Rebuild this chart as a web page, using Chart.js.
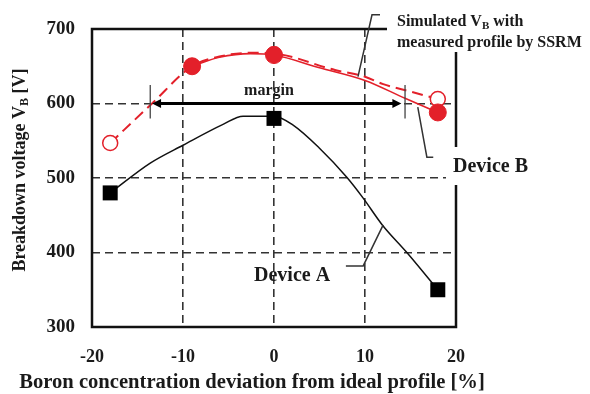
<!DOCTYPE html>
<html>
<head>
<meta charset="utf-8">
<script src="https://cdn.jsdelivr.net/npm/chart.js@4.4.1/dist/chart.umd.min.js"></script>
<style>
  body { margin: 0; background: #fff; }
  #wrap { width: 590px; height: 394px; }
</style>
</head>
<body>
<div id="wrap"><canvas id="chart" width="590" height="394"></canvas></div>
<script>
// axis ticks
const xTicks = [-20, -10, 0, 10, 20];
const yTicks = [300, 400, 500, 600, 700];

// Device A (squares) and its curve
const devAX = [-18, 0, 18];
const devAY = [480, 580, 350];
const devACurveX = [-18, -13.6, -10, -5.6, -3.4, 0, 2.1, 5, 8, 9.8, 11.9, 14.6, 18];
const devACurveY = [480, 520, 544, 572, 583, 583, 571, 540, 501, 473, 437, 400, 350];

// Device B measured (filled red)
const devBX = [-9, 0, 18];
const devBY = [650, 665, 588];
const devBCurveX = [-9, -6, -2.6, 0, 5, 10, 14.4, 18];
const devBCurveY = [650, 662, 667, 665, 648, 631, 607, 588];

// simulated VB with SSRM profile (open red)
const simX = [-18, -9, 0, 18];
const simY = [547, 650, 666, 606];
const simCurveX = [-18, -13.4, -9, -6, -2.6, 0, 6.7, 10, 12, 15, 18];
const simCurveY = [547, 600, 650, 663, 668, 667, 645, 636, 626, 616, 606];

// margin arrow at 600 V
const marginX = [-13.4, 14.0];
const marginY = 600;

// leader lines for the labels (data units)
const leaders = {
  sim: { x: [11.65, 10.77, 9.23], y: [719, 719, 636] },
  devB: { x: [15.8, 16.8, 17.5], y: [595, 528, 528] },
  devA: { x: [7.9, 9.8, 12.0], y: [382, 382, 437] }
};
const marginTicks = { x: [-13.6, 14.4], y: [580, 625] };

const RED = '#e3202a';
const SERIF = '"Liberation Serif", "Times New Roman", serif';

function pts(xs, ys) {
  return xs.map((x, i) => ({ x: x, y: ys[i] }));
}

function drawParts(ctx, parts, x, y) {
  let cx = x;
  parts.forEach(p => {
    ctx.font = 'bold ' + p.size + 'px ' + SERIF;
    ctx.fillText(p.t, cx, y + (p.dy || 0));
    cx += ctx.measureText(p.t).width;
  });
}

function partsWidth(ctx, parts) {
  let w = 0;
  parts.forEach(p => {
    ctx.font = 'bold ' + p.size + 'px ' + SERIF;
    w += ctx.measureText(p.t).width;
  });
  return w;
}

const decor = {
  id: 'decor',
  afterDatasetsDraw(chart) {
    const ctx = chart.ctx;
    const a = chart.chartArea;
    const sx = chart.scales.x, sy = chart.scales.y;
    const P = (x, y) => [sx.getPixelForValue(x), sy.getPixelForValue(y)];
    ctx.save();

    // frame
    ctx.strokeStyle = '#111';
    ctx.lineWidth = 2.5;
    ctx.strokeRect(a.left, a.top, a.right - a.left, a.bottom - a.top);

    // white patches behind the labels that cut the frame
    ctx.fillStyle = '#fff';
    ctx.fillRect(387, 0, 203, 52);
    ctx.fillRect(446, 147, 110, 38);

    // margin arrow
    const l = P(marginX[0], marginY), r = P(marginX[1], marginY);
    ctx.strokeStyle = '#000';
    ctx.lineWidth = 3;
    ctx.beginPath();
    ctx.moveTo(l[0] + 6, l[1]);
    ctx.lineTo(r[0] - 6, r[1]);
    ctx.stroke();
    ctx.fillStyle = '#000';
    ctx.beginPath();
    ctx.moveTo(l[0], l[1]); ctx.lineTo(l[0] + 9, l[1] - 4.5); ctx.lineTo(l[0] + 9, l[1] + 4.5); ctx.closePath();
    ctx.fill();
    ctx.beginPath();
    ctx.moveTo(r[0], r[1]); ctx.lineTo(r[0] - 9, r[1] - 4.5); ctx.lineTo(r[0] - 9, r[1] + 4.5); ctx.closePath();
    ctx.fill();

    // margin end ticks
    ctx.strokeStyle = '#444';
    ctx.lineWidth = 1.3;
    marginTicks.x.forEach(x => {
      const p0 = P(x, marginTicks.y[0]), p1 = P(x, marginTicks.y[1]);
      ctx.beginPath(); ctx.moveTo(p0[0], p0[1]); ctx.lineTo(p1[0], p1[1]); ctx.stroke();
    });

    // leader lines
    ctx.strokeStyle = '#333';
    ctx.lineWidth = 1.5;
    Object.values(leaders).forEach(ld => {
      ctx.beginPath();
      ld.x.forEach((x, i) => {
        const p = P(x, ld.y[i]);
        if (i === 0) ctx.moveTo(p[0], p[1]); else ctx.lineTo(p[0], p[1]);
      });
      ctx.stroke();
    });

    // text
    ctx.fillStyle = '#1a1a1a';
    ctx.textBaseline = 'middle';
    ctx.textAlign = 'left';
    drawParts(ctx, [{ t: 'Simulated V', size: 16 }, { t: 'B', size: 11, dy: 4 }, { t: ' with', size: 16 }], 397, 22);
    drawParts(ctx, [{ t: 'measured profile by SSRM', size: 16 }], 397, 43);
    drawParts(ctx, [{ t: 'Device B', size: 20 }], 453, 167);
    drawParts(ctx, [{ t: 'Device A', size: 20 }], 254, 276);
    ctx.textAlign = 'center';
    ctx.font = 'bold 16px ' + SERIF;
    ctx.fillText('margin', 269, 91);

    // axis titles
    ctx.font = 'bold 20.6px ' + SERIF;
    ctx.fillText('Boron concentration deviation from ideal profile [%]', 252, 383);

    ctx.textAlign = 'left';
    const yt = [{ t: 'Breakdown voltage V', size: 18 }, { t: 'B', size: 12, dy: 5 }, { t: ' [V]', size: 18 }];
    ctx.translate(20, 170);
    ctx.rotate(-Math.PI / 2);
    drawParts(ctx, yt, -partsWidth(ctx, yt) / 2, 0);
    ctx.restore();
  }
};

const edgeHidden = (min, max) => c =>
  (c.tick && (c.tick.value === min || c.tick.value === max)) ? 'rgba(0,0,0,0)' : '#333';

new Chart(document.getElementById('chart'), {
  type: 'line',
  data: {
    datasets: [
      {
        label: 'Device B',
        data: pts(devBX, devBY),
        showLine: false,
        pointRadius: 8.5,
        pointBackgroundColor: RED,
        pointBorderColor: RED,
        pointBorderWidth: 1
      },
      {
        label: 'Device B curve',
        data: pts(devBCurveX, devBCurveY),
        borderColor: RED,
        borderWidth: 1.6,
        pointRadius: 0,
        cubicInterpolationMode: 'monotone'
      },
      {
        label: 'Simulated',
        data: pts(simX, simY),
        showLine: false,
        pointRadius: 7.5,
        pointBackgroundColor: '#fff',
        pointBorderColor: RED,
        pointBorderWidth: 1.5
      },
      {
        label: 'Simulated curve',
        data: pts(simCurveX, simCurveY),
        borderColor: RED,
        borderWidth: 2,
        borderDash: [11, 6],
        pointRadius: 0,
        cubicInterpolationMode: 'monotone'
      },
      {
        label: 'Device A',
        data: pts(devAX, devAY),
        showLine: false,
        pointStyle: 'rect',
        pointRadius: 10.6,
        pointBackgroundColor: '#000',
        pointBorderColor: '#000',
        pointBorderWidth: 0
      },
      {
        label: 'Device A curve',
        data: pts(devACurveX, devACurveY),
        borderColor: '#111',
        borderWidth: 1.5,
        pointRadius: 0,
        cubicInterpolationMode: 'monotone'
      }
    ]
  },
  options: {
    responsive: false,
    animation: false,
    layout: { padding: { left: 0, top: 29, right: 134, bottom: 0 } },
    plugins: { legend: { display: false }, tooltip: { enabled: false } },
    scales: {
      x: {
        type: 'linear',
        min: xTicks[0],
        max: xTicks[xTicks.length - 1],
        afterBuildTicks: s => { s.ticks = xTicks.map(v => ({ value: v })); },
        afterFit: s => { s.height = 67; },
        grid: {
          color: edgeHidden(-20, 20),
          lineWidth: 1.6,
          drawTicks: false,
          tickLength: 0
        },
        border: { display: false, dash: [8, 5] },
        ticks: {
          padding: 20,
          color: '#1a1a1a',
          font: { family: SERIF, size: 18, weight: 'bold' }
        }
      },
      y: {
        min: yTicks[0],
        max: yTicks[yTicks.length - 1],
        afterBuildTicks: s => { s.ticks = yTicks.map(v => ({ value: v })); },
        afterFit: s => { s.width = 92; },
        grid: {
          color: edgeHidden(300, 700),
          lineWidth: 1.6,
          drawTicks: false,
          tickLength: 0
        },
        border: { display: false, dash: [8, 5] },
        ticks: {
          padding: 17,
          color: '#1a1a1a',
          font: { family: SERIF, size: 19, weight: 'bold' }
        }
      }
    }
  },
  plugins: [decor]
});
</script>
</body>
</html>
